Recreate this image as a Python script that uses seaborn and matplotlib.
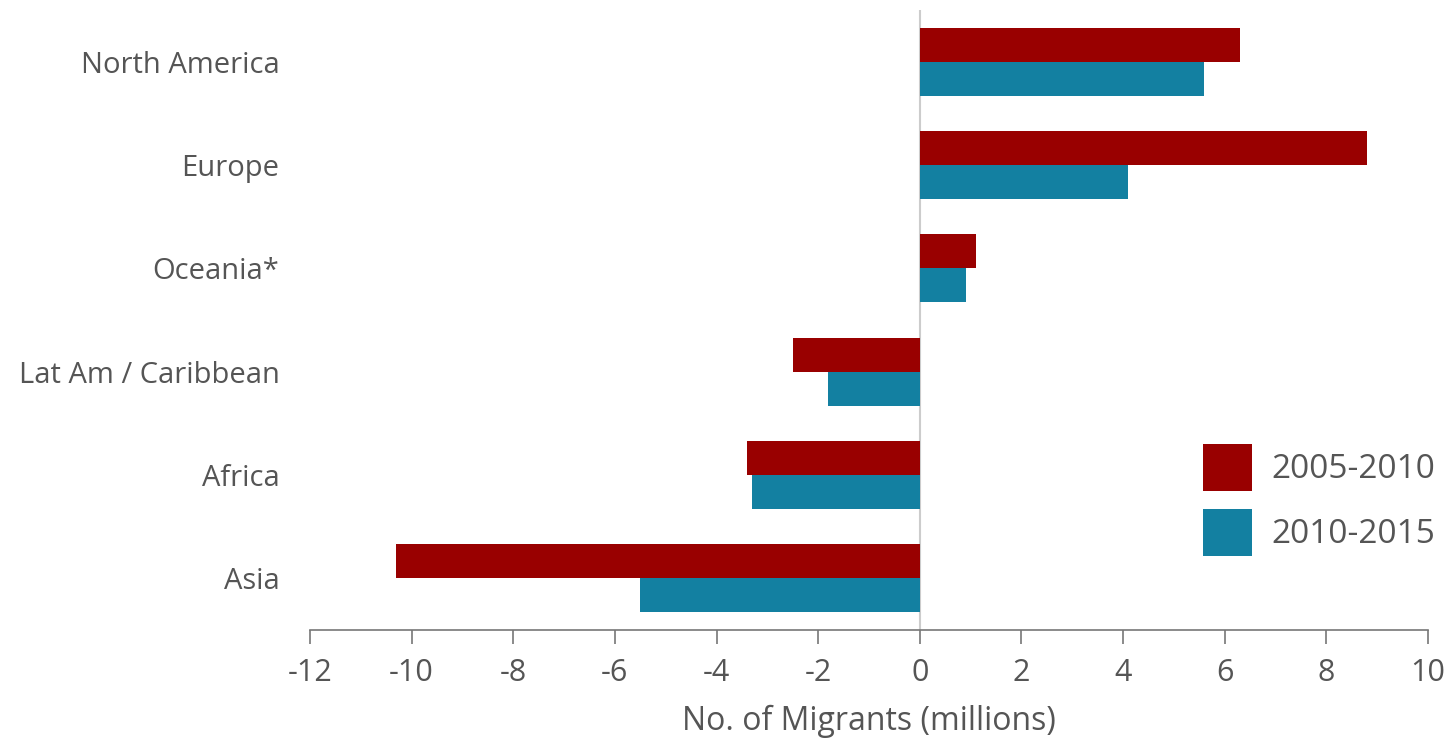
import matplotlib
matplotlib.use("Agg")
import matplotlib.pyplot as plt
import seaborn as sns
import pandas as pd

regions = ["North America", "Europe", "Oceania*", "Lat Am / Caribbean", "Africa", "Asia"]
period_a = "2005-2010"
period_b = "2010-2015"
values_a = [6.3, 8.8, 1.1, -2.5, -3.4, -10.3]
values_b = [5.6, 4.1, 0.9, -1.8, -3.3, -5.5]
xticks = [-12, -10, -8, -6, -4, -2, 0, 2, 4, 6, 8, 10]

df = pd.DataFrame({
    "region": regions * 2,
    "period": [period_a] * len(regions) + [period_b] * len(regions),
    "migrants": values_a + values_b,
})

sns.set_theme(style="white")
plt.rcParams["font.family"] = ["Open Sans", "DejaVu Sans"]
grey = "#555555"

fig = plt.figure(figsize=(14.47, 7.41), dpi=100)
ax = fig.add_axes([0.2142, 0.1498, 0.7727, 0.8367])

sns.barplot(data=df, x="migrants", y="region", hue="period", orient="h",
            palette=["#990000", "#1380A1"], width=0.66, saturation=1,
            order=regions, hue_order=[period_a, period_b], linewidth=0, ax=ax)

ax.set_xlim(-12, 10)
ax.set_ylim(5.5, -0.5)
ax.axvline(0, color="#cccccc", lw=1.5, zorder=0)

for s in ["top", "right", "left"]:
    ax.spines[s].set_visible(False)
ax.spines["bottom"].set_color("#777777")
ax.spines["bottom"].set_linewidth(1.2)

ax.set_xticks(xticks)
ax.set_xticklabels([str(t) for t in xticks])
ax.tick_params(axis="x", bottom=True, direction="out", length=10, width=1.2,
               color="#777777", labelsize=22, labelcolor=grey, pad=10)
ax.tick_params(axis="y", left=False, length=0, labelsize=21, labelcolor=grey, pad=22)
ax.set_ylabel("")
ax.set_xlabel("No. of Migrants (millions)", fontsize=23, color=grey, labelpad=12)

# legend squares ~48px, as in the original
leg = ax.legend(loc="upper left", bbox_to_anchor=(0.787, 0.322), borderaxespad=0,
                frameon=False, fontsize=24, handlelength=1.45, handleheight=1.79,
                handletextpad=0.6, labelspacing=0.55, title=None)
for t in leg.get_texts():
    t.set_color(grey)
for h in leg.legend_handles:
    h.set_linewidth(0)

fig.savefig("out.png", dpi=100)
